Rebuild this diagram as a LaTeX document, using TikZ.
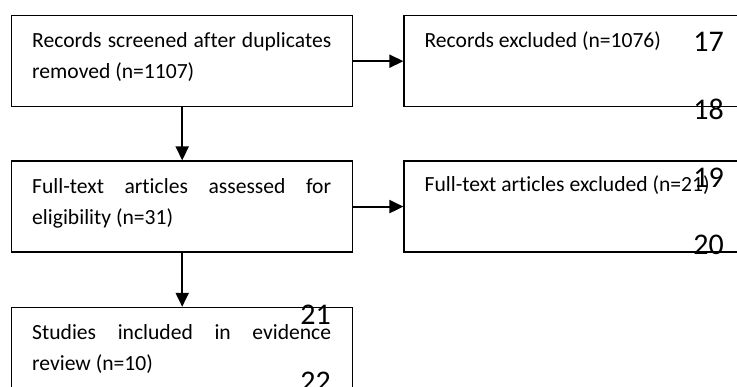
\documentclass[tikz,border=0pt]{standalone}
\usepackage{fontspec}
\setmainfont{Carlito}[Ligatures=NoCommon]
\usepackage{tikz}
\usetikzlibrary{calc,positioning,arrows.meta}
\definecolor{FlowLine}{HTML}{000000}
\definecolor{FlowText}{HTML}{000000}
\hyphenpenalty=10000
\tolerance=9999

\tikzset{
  flowbox/.style={draw=FlowLine, line width=1.4pt, rectangle, inner sep=0pt,
    minimum height=91pt, anchor=north west},
  flowtext/.style={inner sep=0pt, anchor=north west, text width=299pt,
    align=justify, text=FlowText, font=\fontsize{21.6}{31}\selectfont},
  flowarrow/.style={draw=FlowLine, line width=2pt,
    -{Triangle[length=14pt,width=13pt]}},
  linenum/.style={inner sep=0pt, anchor=base east, text=FlowText,
    font=\fontsize{30}{36}\selectfont}
}

\begin{document}
\begin{tikzpicture}[x=1pt, y=-1pt]
  \useasboundingbox (0,0) rectangle (737,387);
  \clip (0,0) rectangle (737,387);
  % boxes
  \node[flowbox, minimum width=341pt] (screened) at (11,15) {};
  \node[flowbox, minimum width=360pt, right=50pt of screened] (excluded) {};
  \node[flowbox, minimum width=341pt, below=53pt of screened] (assessed) {};
  \node[flowbox, minimum width=360pt, right=50pt of assessed] (ftexcluded) {};
  \node[flowbox, minimum width=341pt, minimum height=110pt,
    below=54pt of assessed.south, anchor=north] (included) {};

  % texts
  \node[flowtext] (screenedtext) at ($(screened.north west)+(21,11)$)
    {\strut Records screened after duplicates removed (n=1107)};
  \node[flowtext] (excludedtext) at ($(excluded.north west)+(21,11)$)
    {\strut Records excluded (n=1076)};
  \node[flowtext] (assessedtext) at ($(assessed.north west)+(21,11)$)
    {\strut Full-text articles assessed for eligibility (n=31)};
  \node[flowtext] (ftexcludedtext) at ($(ftexcluded.north west)+(21,9)$)
    {\strut Full-text articles excluded (n=21)};
  \node[flowtext] (includedtext) at ($(included.north west)+(21,11)$)
    {\strut Studies included in evidence review (n=10)};

  % arrows
  \draw[flowarrow] (screened.east) -- (excluded.west);
  \draw[flowarrow] (screened.south) -- (assessed.north);
  \draw[flowarrow] (assessed.east) -- (ftexcluded.west);
  \draw[flowarrow] (assessed.south) -- (included.north);

  % line numbers of the page
  \node[linenum] (ln17) at (724,52) {17};
  \node[linenum] (ln18) at (724,120) {18};
  \node[linenum] (ln19) at (724,188) {19};
  \node[linenum] (ln20) at (724,255) {20};
  \node[linenum] (ln21) at (331,325) {21};
  \node[linenum] (ln22) at (331,392) {22};
\end{tikzpicture}
\end{document}
